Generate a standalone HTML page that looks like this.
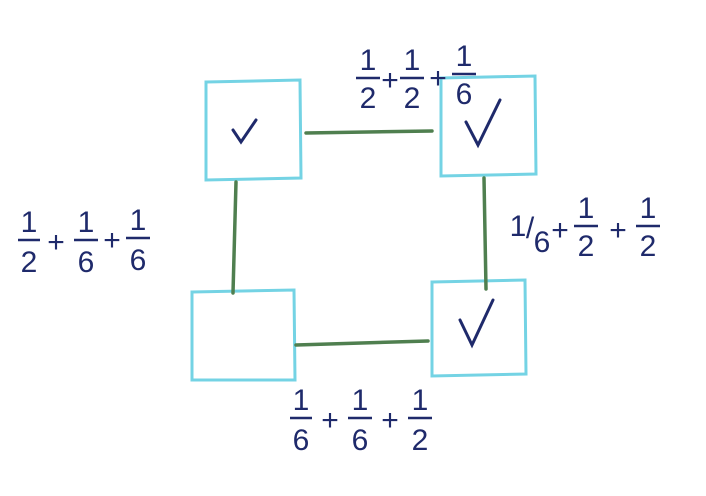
<!DOCTYPE html>
<html><head><meta charset="utf-8"><style>
html,body{margin:0;padding:0;background:#fff;}
svg{display:block}
text{font-family:"Liberation Sans",sans-serif;fill:#1f2a6b;font-size:30px;text-anchor:middle}
</style></head><body>
<svg width="706" height="496" viewBox="0 0 706 496">
<g fill="none" stroke="#74d3e4" stroke-width="3">
<path d="M206 82 L300 80 L301 178 L206 180 Z"/>
<path d="M441 78 L535 76 L536 174 L441 176 Z"/>
<path d="M192 292 L294 290 L295 380 L192 380 Z"/>
<path d="M432 282 L525 280 L526 374 L432 376 Z"/>
</g>
<g stroke="#4f7f4f" stroke-width="3.5" fill="none" stroke-linecap="round">
<path d="M306 133 L432 131"/>
<path d="M236 182 L233 293"/>
<path d="M484 178 L486 289"/>
<path d="M296 345 L428 341"/>
</g>
<g stroke="#1f2a6b" stroke-width="3" fill="none" stroke-linecap="round">
<path d="M233 130 L241 142 L256 120"/>
<path d="M466 122 L478 145 L500 100"/>
<path d="M460 320 L472 345 L493 300"/>
</g>
<g stroke="#1f2a6b" stroke-width="2.5">
<line x1="356" y1="78" x2="380" y2="78"/><line x1="400" y1="78" x2="424" y2="78"/><line x1="452" y1="74" x2="476" y2="74"/>
<line x1="18" y1="240" x2="40" y2="240"/><line x1="74" y1="240" x2="98" y2="240"/><line x1="126" y1="238" x2="150" y2="238"/>
<line x1="574" y1="226" x2="598" y2="226"/><line x1="636" y1="226" x2="660" y2="226"/>
<line x1="290" y1="418" x2="312" y2="418"/><line x1="348" y1="418" x2="372" y2="418"/><line x1="408" y1="418" x2="432" y2="418"/>
</g>
<g>
<text x="368" y="70">1</text><text x="368" y="108">2</text><text x="390" y="90">+</text>
<text x="412" y="70">1</text><text x="412" y="108">2</text><text x="438" y="88">+</text>
<text x="464" y="66">1</text><text x="464" y="104">6</text>
</g>
<g>
<text x="29" y="232">1</text><text x="29" y="272">2</text><text x="56" y="252">+</text>
<text x="86" y="232">1</text><text x="86" y="272">6</text><text x="112" y="250">+</text>
<text x="138" y="230">1</text><text x="138" y="270">6</text>
</g>
<g>
<text x="518" y="236">1</text><text x="530" y="238" style="font-size:30px">/</text><text x="542" y="252">6</text>
<text x="560" y="240">+</text>
<text x="586" y="218">1</text><text x="586" y="256">2</text><text x="618" y="240">+</text>
<text x="648" y="218">1</text><text x="648" y="256">2</text>
</g>
<g>
<text x="301" y="410">1</text><text x="301" y="450">6</text><text x="330" y="430">+</text>
<text x="360" y="410">1</text><text x="360" y="450">6</text><text x="390" y="430">+</text>
<text x="420" y="410">1</text><text x="420" y="450">2</text>
</g>
</svg>
</body></html>
